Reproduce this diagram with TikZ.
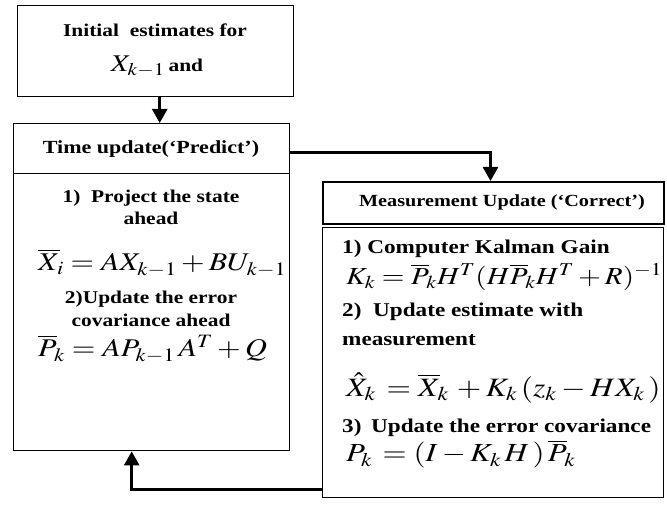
\documentclass[tikz,border=0pt]{standalone}
\usepackage{mathptmx}
\usepackage{graphicx}
\usepackage{fontspec}
\setmainfont{Liberation Serif}
\usetikzlibrary{arrows.meta}

% the lettering of this chart is set a little wide
\newcommand{\wide}[1]{\scalebox{1.19}[1]{#1}}

\tikzset{
  frame/.style={draw, line width=1.4pt, rectangle, anchor=north west, inner sep=0pt},
  txt/.style={inner sep=0pt, align=center},
  eqn/.style={inner sep=0pt},
  link/.style={line width=2.6pt, -{Triangle[length=14pt, width=15pt]}},
}

\begin{document}
\begin{tikzpicture}[x=1pt, y=-1pt]
  \useasboundingbox (0,0) rectangle (667,508);

  % boxes
  \node[frame, minimum width=276pt, minimum height=91pt] (init) at (17,5) {};
  \node[frame, minimum width=276pt, minimum height=50pt] (thead) at (13,123) {};
  \node[frame, minimum width=276pt, minimum height=277pt] (tbody) at (13,173) {};
  \node[frame, line width=2pt, minimum width=341pt, minimum height=42pt] (mhead) at (322,181) {};
  \node[frame, minimum width=341pt, minimum height=270pt] (mbody) at (322,227) {};

  % initial estimates
  \node[txt, font=\fontsize{18}{20}\selectfont\bfseries] (i1) at (155,30) {\wide{Initial\ \ estimates for}};
  \node[txt, font=\fontsize{18}{20}\selectfont\bfseries] (i2) at (157,66)
    {\wide{{\fontsize{24}{26}\selectfont$X_{k-1}$}\,and}};

  % time update
  \node[txt, font=\fontsize{18.5}{20}\selectfont\bfseries] (th) at (151,149) {\wide{Time update(`Predict')}};
  \node[txt, font=\fontsize{18}{20}\selectfont\bfseries] (t1) at (151,198) {\wide{1)\ \ Project the state}};
  \node[txt, font=\fontsize{18}{20}\selectfont\bfseries] (t2) at (151,218) {\wide{ahead}};
  \node[eqn, anchor=west, font=\fontsize{25.5}{28}\selectfont] (teq1) at (38,263)
    {\wide{$\overline{X}_{\!i} = AX_{k-1} + BU_{k-1}$}};
  \node[txt, font=\fontsize{18}{20}\selectfont\bfseries] (t3) at (151,299) {\wide{2)Update the error}};
  \node[txt, font=\fontsize{18}{20}\selectfont\bfseries] (t4) at (151,320) {\wide{covariance ahead}};
  \node[eqn, anchor=west, font=\fontsize{25.5}{28}\selectfont] (teq2) at (38,349)
    {\wide{$\overline{P}_{\!k} = AP_{k-1}\,A^{T} + Q$}};

  % measurement update
  \node[txt, font=\fontsize{17}{18}\selectfont\bfseries] (mh) at (502,202) {\wide{Measurement Update (`Correct')}};
  \node[txt, anchor=west, font=\fontsize{19.5}{22}\selectfont\bfseries] (m1) at (342,249) {\wide{1) Computer Kalman Gain}};
  \node[eqn, anchor=west, font=\fontsize{24.5}{28}\selectfont] (meq1) at (346,277)
    {\wide{$K_{k} = \overline{P}_{\!k} H^{T}(H\overline{P}_{\!k}H^{T} + R)^{-1}$}};
  \node[txt, anchor=west, font=\fontsize{19.5}{22}\selectfont\bfseries] (m2) at (342,312) {\wide{2)\ \ Update estimate with}};
  \node[txt, anchor=west, font=\fontsize{19.5}{22}\selectfont\bfseries] (m3) at (342,340) {\wide{measurement}};
  \node[eqn, anchor=west, font=\fontsize{26.5}{28}\selectfont] (meq2) at (346,388)
    {\wide{$\hat{X}_{k}\, = \overline{X}_{\!k}\, + K_{k}\,(z_{k} - HX_{k}\,)$}};
  \node[txt, anchor=west, font=\fontsize{19.5}{22}\selectfont\bfseries] (m4) at (342,428) {\wide{3)\, Update the error covariance}};
  \node[eqn, anchor=west, font=\fontsize{26}{28}\selectfont] (meq3) at (346,454)
    {\wide{$P_{k}\, = (I - K_{k}\,H\,)\,\overline{P}_{\!k}$}};

  % connectors
  \draw[link] ([xshift=4pt]init.south) -- ([xshift=8pt]thead.north);
  \draw[link] ([yshift=-4pt]thead.east) -| ([xshift=-3pt]mhead.north);
  \draw[link] ([yshift=9pt]mbody.south west) -| ([xshift=-20pt]tbody.south);
\end{tikzpicture}
\end{document}
